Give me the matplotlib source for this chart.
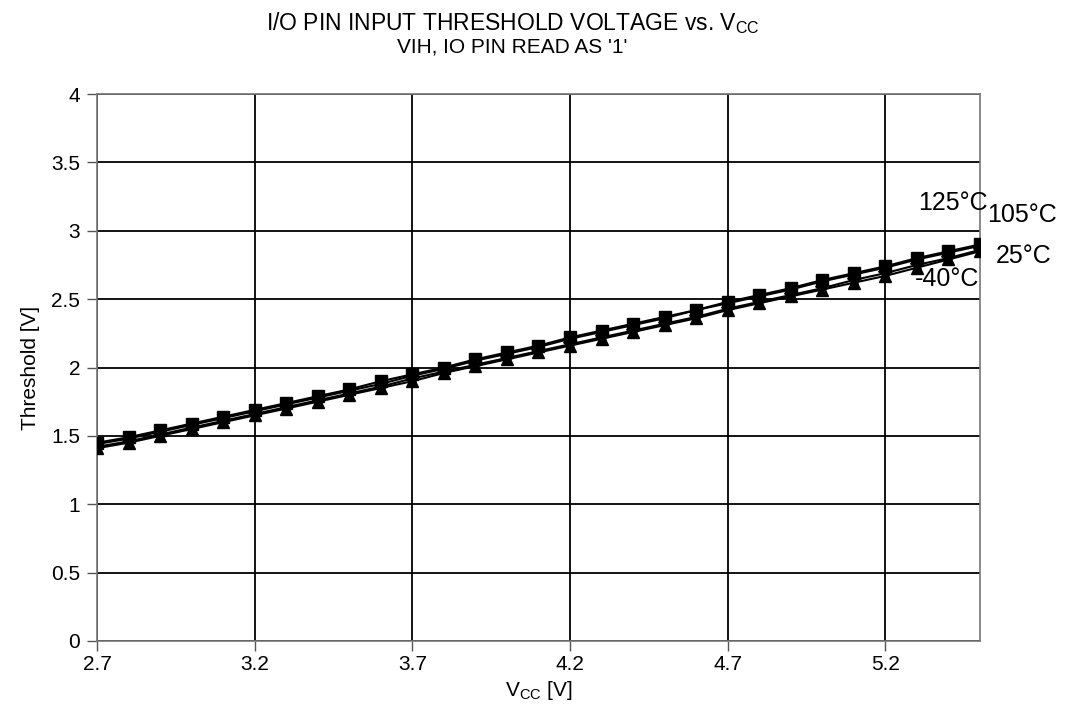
import matplotlib
matplotlib.use("Agg")
import matplotlib.pyplot as plt

plt.rcParams['font.family'] = ['Liberation Sans', 'DejaVu Sans']
plt.rcParams['mathtext.fontset'] = 'custom'
plt.rcParams['mathtext.rm'] = 'Liberation Sans'

# supply voltage (V)
vcc = [2.7, 2.8, 2.9, 3.0, 3.1, 3.2, 3.3, 3.4, 3.5, 3.6, 3.7, 3.8, 3.9, 4.0, 4.1,
       4.2, 4.3, 4.4, 4.5, 4.6, 4.7, 4.8, 4.9, 5.0, 5.1, 5.2, 5.3, 5.4, 5.5]

# threshold (V) per temperature
t125 = [1.45, 1.49, 1.54, 1.59, 1.64, 1.69, 1.74, 1.79, 1.84, 1.90, 1.95, 2.00, 2.06, 2.11, 2.16,
        2.22, 2.27, 2.32, 2.37, 2.42, 2.48, 2.53, 2.58, 2.64, 2.69, 2.74, 2.80, 2.85, 2.90]
t105 = [1.44, 1.48, 1.53, 1.58, 1.63, 1.68, 1.73, 1.78, 1.83, 1.88, 1.94, 1.99, 2.05, 2.10, 2.15,
        2.21, 2.26, 2.31, 2.36, 2.42, 2.47, 2.52, 2.57, 2.63, 2.68, 2.73, 2.79, 2.84, 2.89]
t25 = [1.42, 1.46, 1.51, 1.56, 1.61, 1.66, 1.71, 1.76, 1.81, 1.86, 1.92, 1.97, 2.02, 2.07, 2.12,
       2.17, 2.22, 2.27, 2.32, 2.37, 2.43, 2.48, 2.53, 2.58, 2.64, 2.69, 2.75, 2.80, 2.86]
tm40 = [1.41, 1.45, 1.50, 1.55, 1.60, 1.65, 1.70, 1.75, 1.80, 1.85, 1.90, 1.96, 2.01, 2.06, 2.11,
        2.16, 2.21, 2.26, 2.31, 2.36, 2.42, 2.47, 2.52, 2.57, 2.62, 2.67, 2.73, 2.79, 2.85]

labels = ['125°C', '105°C', '25°C', '-40°C']
xticks = [2.7, 3.2, 3.7, 4.2, 4.7, 5.2]
yticks = [0, 0.5, 1, 1.5, 2, 2.5, 3, 3.5, 4]

fig = plt.figure(figsize=(10.71, 7.15), dpi=100)
ax = fig.add_axes([0.0906, 0.1035, 0.8244, 0.765])

series = [t125, t105, t25, tm40]
markers = ['s', 'h', '*', '^']
sizes = [8, 8, 11, 8]
for s, m, ms in zip(series, markers, sizes):
    ax.plot(vcc, s, color='black', lw=1.5, marker=m, markersize=ms, zorder=3)

ax.set_xlim(2.7, 5.5)
ax.set_ylim(0, 4)
ax.set_xticks(xticks)
ax.set_xticklabels([str(v) for v in xticks])
ax.set_yticks(yticks)
ax.set_yticklabels(['0', '0.5', '1', '1.5', '2', '2.5', '3', '3.5', '4'])
ax.grid(True, color='black', lw=1.3)
ax.set_axisbelow(True)
ax.tick_params(axis='both', direction='out', length=7, width=1, color='#555555',
               labelsize=15, pad=5)
ax.tick_params(axis='x', pad=3)
for sp in ax.spines.values():
    sp.set_color('#777777')
    sp.set_linewidth(1.2)

ax.set_xlabel(r'V$_{\mathregular{CC}}$ [V]', fontsize=15, labelpad=4)
ax.set_ylabel('Threshold [V]', fontsize=15, labelpad=8)

fig.text(0.479, 0.968, r'I/O PIN INPUT THRESHOLD VOLTAGE vs. V$_{\mathregular{CC}}$',
         ha='center', va='center', fontsize=16.5)
fig.text(0.478, 0.934, "VIH, IO PIN READ AS '1'", ha='center', va='center', fontsize=15)

# temperature labels near the right end
ax.text(5.525, 3.20, labels[0], ha='right', va='center', fontsize=18)
ax.text(5.522, 3.115, labels[1], ha='left', va='center', fontsize=18)
ax.text(5.55, 2.815, labels[2], ha='left', va='center', fontsize=18)
ax.text(5.497, 2.647, labels[3], ha='right', va='center', fontsize=18)

plt.savefig('out.png', dpi=100)
plt.close('all')
